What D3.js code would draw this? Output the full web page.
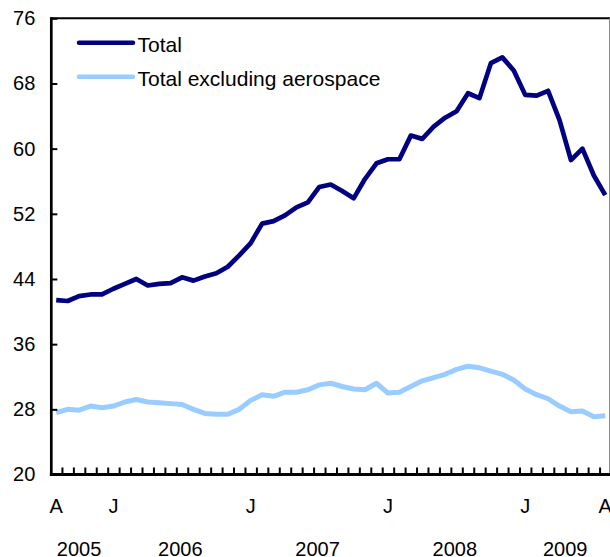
<!DOCTYPE html>
<html>
<head>
<meta charset="utf-8">
<script src="https://cdn.jsdelivr.net/npm/d3@7/dist/d3.min.js"></script>
<style>
  html, body { margin: 0; padding: 0; background: #fff; }
  svg { display: block; }
  text { font-family: "Liberation Sans", Arial, sans-serif; fill: #000; }
</style>
</head>
<body>
<svg id="chart" width="610" height="557"></svg>
<script>
// ---- Data (Aug 2005 – Aug 2009, monthly) ----
const months = d3.timeMonths(new Date(2005, 7, 1), new Date(2009, 8, 1)); // 49 months

const total = [
  41.4, 41.3, 41.9, 42.1, 42.1, 42.8, 43.4, 44.0, 43.2, 43.4, 43.5, 44.2,
  43.8, 44.3, 44.7, 45.5, 46.9, 48.4, 50.8, 51.1, 51.8, 52.8, 53.4, 55.3,
  55.6, 54.8, 53.9, 56.3, 58.2, 58.7, 58.7, 61.6, 61.2, 62.7, 63.8, 64.6,
  66.8, 66.2, 70.5, 71.2, 69.6, 66.6, 66.5, 67.1, 63.5, 58.6, 60.0, 56.7,
  54.3
];

const totalExAero = [
  27.6, 28.0, 27.9, 28.4, 28.2, 28.4, 28.9, 29.2, 28.9, 28.8, 28.7, 28.6,
  28.0, 27.5, 27.4, 27.4, 28.0, 29.1, 29.8, 29.6, 30.1, 30.1, 30.4, 31.0,
  31.2, 30.8, 30.5, 30.4, 31.2, 30.0, 30.1, 30.8, 31.5, 31.9, 32.3, 32.9,
  33.3, 33.1, 32.7, 32.3, 31.6, 30.5, 29.8, 29.3, 28.4, 27.7, 27.8, 27.1,
  27.2
];

const seriesNames = ["Total", "Total excluding aerospace"];
const seriesColors = ["#000080", "#99ccff"];

const yTicks = [20, 28, 36, 44, 52, 60, 68, 76];
const monthTickDates = ["2005-08", "2006-01", "2007-01", "2008-01", "2009-01", "2009-08"];
const monthTickLabels = ["A", "J", "J", "J", "J", "A"];
const years = ["2005", "2006", "2007", "2008", "2009"];

// ---- Layout ----
const svg = d3.select("#chart");
const pLeft = 50.5, pRight = 611, pTop = 18.3, pBottom = 474.5;
const fmt = d3.timeFormat("%Y-%m");

const x = d3.scaleBand().domain(months.map(fmt)).range([pLeft, pRight]).paddingInner(0).paddingOuter(0);
const bw = x.bandwidth();
const cx = k => x(k) + bw / 2;
const y = d3.scaleLinear().domain([20, 76]).range([pBottom, pTop]);

// Lines (drawn first, under the axes)
const line = d3.line().x((d, i) => cx(fmt(months[i]))).y(d => y(d));
const plot = svg.append("g");
plot.append("path").datum(totalExAero).attr("d", line).attr("fill", "none")
  .attr("stroke", seriesColors[1]).attr("stroke-width", 5).attr("stroke-linejoin", "round");
plot.append("path").datum(total).attr("d", line).attr("fill", "none")
  .attr("stroke", seriesColors[0]).attr("stroke-width", 4.7).attr("stroke-linejoin", "round");

// Frame: top border and right border
svg.append("line").attr("x1", pLeft).attr("x2", 610).attr("y1", pTop).attr("y2", pTop)
  .attr("stroke", "#000").attr("stroke-width", 2);
svg.append("line").attr("x1", 609.5).attr("x2", 609.5).attr("y1", pTop).attr("y2", pBottom)
  .attr("stroke", "#888").attr("stroke-width", 1);

// Y axis
const yAxis = d3.axisLeft(y).tickValues(yTicks).tickSize(-6).tickPadding(16).tickFormat(d3.format("d"));
const gy = svg.append("g").attr("transform", `translate(${pLeft + 0.8},0)`).call(yAxis);
gy.select(".domain").remove();
gy.selectAll(".tick line").attr("stroke", "#000").attr("stroke-width", 2);
gy.selectAll(".tick text").attr("font-size", 20).attr("font-family", "Liberation Sans, Arial, sans-serif").attr("fill", "#000");
svg.append("line").attr("x1", pLeft + 0.8).attr("x2", pLeft + 0.8).attr("y1", pTop - 1).attr("y2", pBottom + 1.5)
  .attr("stroke", "#000").attr("stroke-width", 2.7);

// X axis: ticks at month boundaries
const xb = d3.scaleLinear().domain([0, months.length]).range([pLeft, pRight]);
const xAxis = d3.axisBottom(xb).tickValues(d3.range(1, months.length)).tickSize(-7).tickFormat("");
const gx = svg.append("g").attr("transform", `translate(0,${pBottom})`).call(xAxis);
gx.select(".domain").remove();
gx.selectAll(".tick line").attr("stroke", "#000").attr("stroke-width", 2);
svg.append("line").attr("x1", pLeft - 0.6).attr("x2", 610).attr("y1", pBottom).attr("y2", pBottom)
  .attr("stroke", "#000").attr("stroke-width", 2.8);

// Month labels
svg.append("g").selectAll("text").data(monthTickDates).join("text")
  .attr("x", d => cx(d)).attr("y", 513)
  .attr("text-anchor", "middle").attr("font-size", 20)
  .text((d, i) => monthTickLabels[i]);

// Year labels (centered under each year's months)
svg.append("g").selectAll("text").data(years).join("text")
  .attr("x", yr => {
    const ks = months.filter(m => String(m.getFullYear()) === yr).map(fmt);
    const c = (cx(ks[0]) + cx(ks[ks.length - 1])) / 2;
    return ks.length === 12 ? c + bw * 0.35 : c;
  })
  .attr("y", 556)
  .attr("text-anchor", "middle").attr("font-size", 20)
  .text(d => d);

// Legend
const legend = svg.append("g");
seriesNames.forEach((name, i) => {
  const ly = 42.7 + i * 34;
  legend.append("line").attr("x1", 79).attr("x2", 133).attr("y1", ly).attr("y2", ly)
    .attr("stroke", seriesColors[i]).attr("stroke-width", 4.5).attr("stroke-linecap", "round");
  legend.append("text").attr("x", 137.5).attr("y", ly + 9)
    .attr("font-size", 21).text(name);
});
</script>
</body>
</html>
